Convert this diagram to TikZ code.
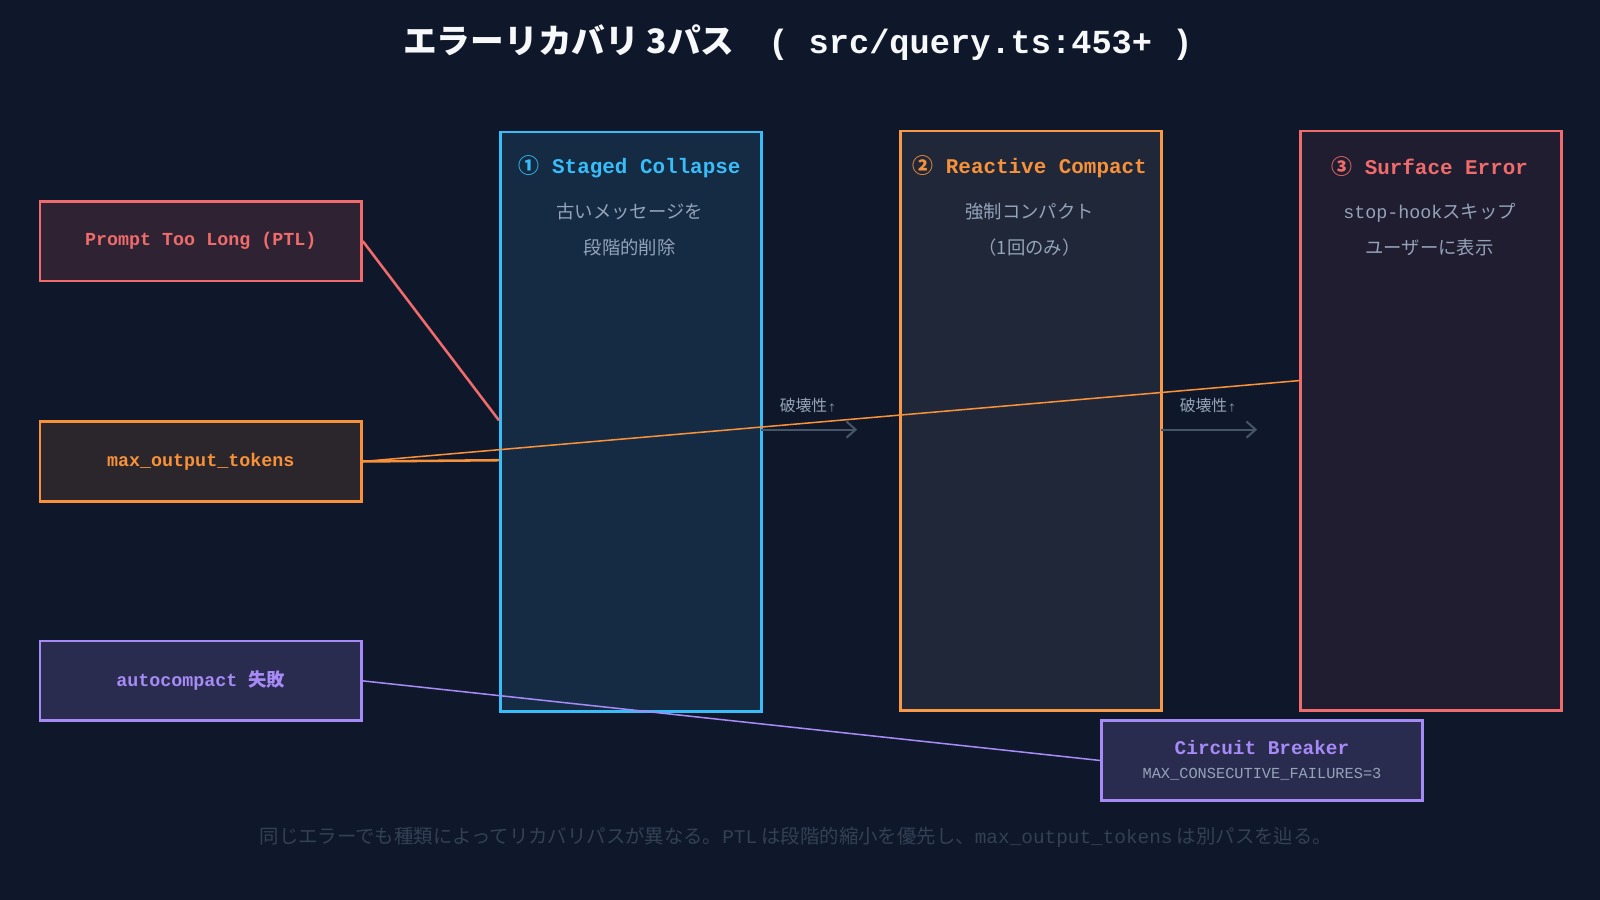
\documentclass[tikz,border=0pt]{standalone}
\usepackage{fontspec}
\setmainfont{Noto Sans CJK JP}
\newfontfamily\jp{Noto Sans CJK JP}
\newfontfamily\mono{Liberation Mono}
\usetikzlibrary{arrows.meta}
\definecolor{bg}{HTML}{0F172A}
\definecolor{cred}{HTML}{F06B6B}
\definecolor{corange}{HTML}{F7923A}
\definecolor{cpurple}{HTML}{A68AF5}
\definecolor{cblue}{HTML}{38BDF8}
\definecolor{cgray}{HTML}{94A3B8}
\definecolor{cdim}{HTML}{334155}
\definecolor{carr}{HTML}{475569}
\tikzset{
 box/.style={draw, line width=2.5pt, minimum height=78pt, minimum width=315pt, anchor=north west, font=\mono\bfseries\fontsize{18}{20}\selectfont},
 col/.style={draw, line width=2.5pt, minimum height=568pt, minimum width=256pt, anchor=north west},
 coltitle/.style={font=\mono\bfseries\fontsize{20.5}{22}\selectfont, anchor=center},
 coltext/.style={font=\jp\fontsize{18}{36}\selectfont, text=cgray, align=center},
 arr/.style={draw=carr, line width=2pt, -{Straight Barb[length=9pt,width=16pt]}},
 lab/.style={font=\jp\fontsize{15.5}{17}\selectfont, text=cgray}
}
\begin{document}
\begin{tikzpicture}[x=1pt,y=-1pt]
\fill[bg] (0,0) rectangle (1568,882);
\useasboundingbox (0,0) rectangle (1568,882);
\node[font=\bfseries\fontsize{33}{36}\selectfont, text=white!92!cgray] (title) at (782,42) {\jp エラーリカバリ 3パス\quad{\mono\bfseries ( src/query.ts:453+ )}};
% columns
\node[col, draw=cblue, fill=cblue!12!bg] (c1) at (489,128) {};
\node[col, draw=corange, fill=bg] (c2) at (881,127) {};
\node[col, draw=cred, fill=cred!7!bg] (c3) at (1273,127) {};
\fill[fill=white, opacity=0.07] (c2.north west) rectangle (c2.south east);
\node[coltitle, text=cblue] (t1) at (617,163) {{\jp ①} Staged Collapse};
\node[coltitle, text=corange] (t2) at (1009,163) {{\jp ②} Reactive Compact};
\node[coltitle, text=cred] (t3) at (1401,163) {{\jp ③} Surface Error};
\node[coltext] (d1) at (617,225) {古いメッセージを\\段階的削除};
\node[coltext] (d2) at (1009,225) {強制コンパクト\\（1回のみ）};
\node[coltext] (d3) at (1401,225) {{\mono stop-hook}スキップ\\ユーザーに表示};
% arrows
\coordinate (a1s) at (746,421); \coordinate (a1e) at (840,421);
\coordinate (a2s) at (1138,421); \coordinate (a2e) at (1232,421);
\draw[arr] (a1s) -- (a1e);
\draw[arr] (a2s) -- (a2e);
\node[lab] (l1) at (792,397) {破壊性{\fontsize{9}{9}\selectfont↑}};
\node[lab] (l2) at (1184,397) {破壊性{\fontsize{9}{9}\selectfont↑}};
% left boxes
\node[box, draw=cred, fill=cred!14!bg, text=cred] (ptl) at (38,196) {Prompt Too Long (PTL)};
\node[box, draw=corange, fill=corange!12!bg, text=corange] (mot) at (38,412) {max\_output\_tokens};
\node[box, draw=cpurple, fill=cpurple!18!bg, text=cpurple] (ac) at (38,627) {autocompact {\jp\bfseries 失敗}};
\node[box, draw=cpurple, fill=cpurple!18!bg, align=center, font=\mono\fontsize{15}{24}\selectfont] (cb) at (1078,705) {{\bfseries\fontsize{19}{24}\selectfont\color{cpurple}Circuit Breaker}\\{\color{cgray}MAX\_CONSECUTIVE\_FAILURES=3}};
% connectors
\coordinate (p1) at (489,412);
\coordinate (m1) at (489,451);
\coordinate (m2) at (1273,373);
\draw[cred, line width=2.5pt] (ptl.east) -- (p1);
\draw[corange, line width=2.5pt] (mot.east) -- (m1);
\draw[corange, line width=1.5pt] (mot.east) -- (m2);
\draw[cpurple, line width=1.5pt] (ac.east) -- (cb.west);
% footer
\node[font=\jp\fontsize{19}{22}\selectfont, text=cdim] (foot) at (780,821) {同じエラーでも種類によってリカバリパスが異なる。{\mono PTL} は段階的縮小を優先し、{\mono max\_output\_tokens} は別パスを辿る。};
\end{tikzpicture}
\end{document}
